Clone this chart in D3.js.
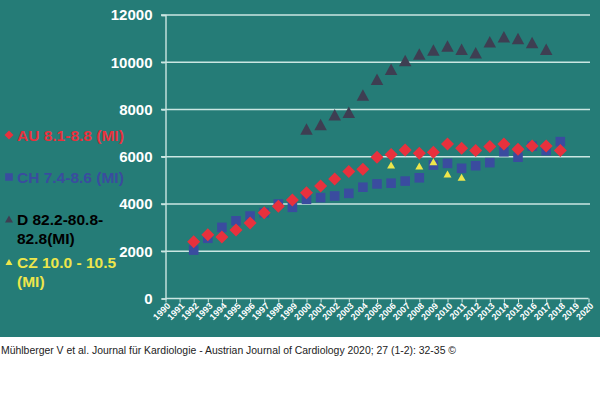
<!DOCTYPE html>
<html><head><meta charset="utf-8">
<script src="https://cdn.jsdelivr.net/npm/d3@7"></script>
<style>body{margin:0;background:#fff}svg{display:block}</style>
</head><body>
<svg id="c" width="600" height="399"></svg>
<script>
const yearsAll = d3.range(1990, 2021);
const yTicks = [0, 2000, 4000, 6000, 8000, 10000, 12000];

const auYears = d3.range(1992, 2019);
const auValues = [2400, 2700, 2600, 2900, 3200, 3630, 3900, 4170, 4480, 4760, 5060, 5380, 5470, 5980, 6100, 6290, 6150, 6190, 6540, 6360, 6260, 6430, 6540, 6320, 6450, 6450, 6260];

const chYears = d3.range(1992, 2019);
const chValues = [2050, 2550, 3010, 3290, 3490, 3630, 4000, 3860, 4200, 4270, 4340, 4450, 4710, 4850, 4880, 4970, 5110, 5650, 5720, 5510, 5620, 5750, 6210, 5980, 6450, 6260, 6640];

const dYears = d3.range(2000, 2018);
const dValues = [7170, 7370, 7780, 7880, 8610, 9280, 9700, 10070, 10350, 10520, 10690, 10550, 10400, 10870, 11080, 11010, 10840, 10550];

const czYears = [2006, 2008, 2009, 2010, 2011];
const czValues = [5650, 5610, 5790, 5270, 5130];

const legendLabels = [["AU 8.1-8.8 (MI)"], ["CH 7.4-8.6 (MI)"], ["D 82.2-80.8-", "82.8(MI)"], ["CZ 10.0 - 10.5", "(MI)"]];
const citation = "Mühlberger V et al. Journal für Kardiologie - Austrian Journal of Cardiology 2020; 27 (1-2): 32-35 ©";

const svg = d3.select("#c");
const font = "'Liberation Sans', Arial, sans-serif";
const BG = "#257C77", RED = "#E8313D", BLUE = "#3A4C9F", DARK = "#3E3E52", YEL = "#EDE64B", GRID = "#CBE6E2";

svg.append("rect").attr("width", 600).attr("height", 337).attr("fill", BG);

const x = d3.scaleLinear().domain([1990, 2020]).range([165.5, 588.5]);
const y = d3.scaleLinear().domain([0, 12000]).range([298.5, 15]);

// gridlines
svg.append("g").selectAll("line").data(yTicks.filter(d => d > 0)).join("line")
  .attr("x1", 161).attr("x2", 590).attr("y1", d => y(d)).attr("y2", d => y(d))
  .attr("stroke", GRID).attr("stroke-width", 1.6);

// y axis
const ya = svg.append("g").attr("transform", "translate(165.5,0)")
  .call(d3.axisLeft(y).tickValues(yTicks).tickSize(4).tickPadding(9).tickFormat(d3.format("d")));
ya.select(".domain").attr("stroke", GRID).attr("stroke-width", 1.4);
ya.selectAll(".tick line").attr("stroke", GRID).attr("stroke-width", 1.4);
ya.selectAll("text").attr("fill", "#fff").attr("font-family", font).attr("font-weight", "bold").attr("font-size", 15);

// x axis
const xa = svg.append("g").attr("transform", "translate(0,298.5)")
  .call(d3.axisBottom(x).tickValues(yearsAll).tickSize(4).tickFormat(d3.format("d")));
xa.select(".domain").attr("stroke", GRID).attr("stroke-width", 1.4).attr("d", `M165.5,0H588.5`);
xa.selectAll(".tick line").attr("stroke", GRID).attr("stroke-width", 1);
xa.selectAll("text").attr("fill", "#fff").attr("font-family", font).attr("font-weight", "bold").attr("font-size", 9)
  .attr("text-anchor", "end").attr("dy", 0).attr("y", 0)
  .attr("transform", "translate(5,8) rotate(-45)");

// marker path helpers
const diamond = (cx, cy, r) => `M${cx},${cy - r}L${cx + r},${cy}L${cx},${cy + r}L${cx - r},${cy}Z`;
const square = (cx, cy, r) => `M${cx - r},${cy - r}h${2 * r}v${2 * r}h${-2 * r}Z`;
const tri = (cx, cy, w, h) => `M${cx},${cy - h / 2}L${cx + w / 2},${cy + h / 2}L${cx - w / 2},${cy + h / 2}Z`;

const zip = (a, b) => a.map((d, i) => [d, b[i]]);

svg.append("g").selectAll("path").data(zip(dYears, dValues)).join("path")
  .attr("d", d => tri(x(d[0]), y(d[1]), 12.5, 11.5)).attr("fill", DARK);
svg.append("g").selectAll("path").data(zip(chYears, chValues)).join("path")
  .attr("d", d => square(x(d[0]), y(d[1]), 4.8)).attr("fill", BLUE);
svg.append("g").selectAll("path").data(zip(auYears, auValues)).join("path")
  .attr("d", d => diamond(x(d[0]), y(d[1]), 6.5)).attr("fill", RED);
svg.append("g").selectAll("path").data(zip(czYears, czValues)).join("path")
  .attr("d", d => tri(x(d[0]), y(d[1]), 8, 7)).attr("fill", YEL);

// legend
const lg = svg.append("g").attr("font-family", font).attr("font-weight", "bold").attr("font-size", 15.5);
const items = [
  {y: 135, color: RED, mcolor: RED, m: (cx, cy) => diamond(cx, cy, 4.5)},
  {y: 177, color: BLUE, mcolor: BLUE, m: (cx, cy) => square(cx, cy, 3.8)},
  {y: 219, color: "#000", mcolor: DARK, m: (cx, cy) => tri(cx, cy, 8, 7)},
  {y: 262, color: YEL, mcolor: YEL, m: (cx, cy) => tri(cx, cy, 7, 6)}
];
items.forEach((it, i) => {
  lg.append("path").attr("d", it.m(9, it.y)).attr("fill", it.mcolor);
  legendLabels[i].forEach((t, j) => {
    lg.append("text").attr("x", 17).attr("y", it.y + j * 19.5).attr("dy", "0.36em").attr("fill", it.color).text(t);
  });
});

svg.append("text").attr("x", 1).attr("y", 354).attr("font-family", font).attr("font-size", 11.5)
  .attr("fill", "#222").attr("textLength", 455).attr("lengthAdjust", "spacingAndGlyphs").text(citation);
</script>
</body></html>
